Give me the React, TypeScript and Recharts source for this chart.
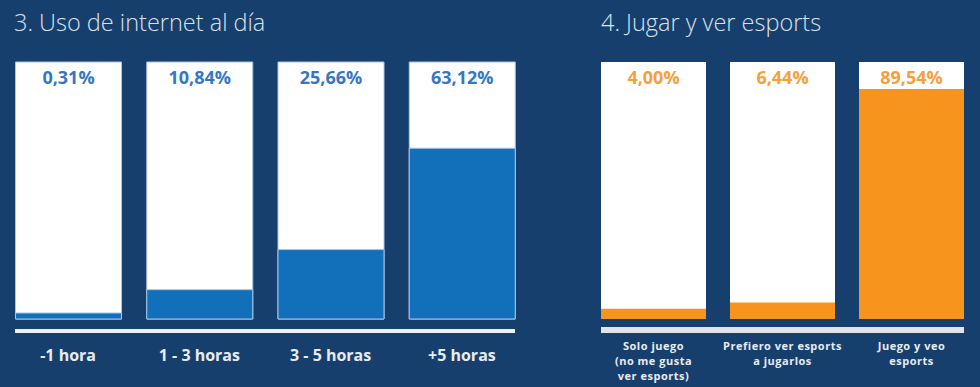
import { BarChart, Bar, XAxis, YAxis, LabelList } from "recharts";

// 3. Uso de internet al día
const usoCategorias = ["-1 hora", "1 - 3 horas", "3 - 5 horas", "+5 horas"];
const usoValores = [0.31, 10.84, 25.66, 63.12];

// 4. Jugar y ver esports
const esportsCategorias = [
  "Solo juego\n(no me gusta\nver esports)",
  "Prefiero ver esports\na jugarlos",
  "Juego y veo\nesports",
];
const esportsValores = [4.0, 6.44, 89.54];

const FONT = "'Open Sans', 'Noto Sans', sans-serif";
const NAVY = "#173f6e";
const PLOT_TOP = 62;

const fmt = (v: number) => v.toFixed(2).replace(".", ",") + "%";

const usoData = usoCategorias.map((cat, i) => ({ cat, valor: usoValores[i] }));
const esportsData = esportsCategorias.map((cat, i) => ({ cat, valor: esportsValores[i] }));

const pctLabel = (color: string) => (props: any) => {
  const { x, width, value } = props;
  return (
    <text
      x={Number(x) + Number(width) / 2}
      y={PLOT_TOP + 22}
      textAnchor="middle"
      fill={color}
      fontFamily={FONT}
      fontWeight={700}
      fontSize={18}
    >
      {fmt(Number(value))}
    </text>
  );
};

const HorasTick = (props: any) => {
  const { x, y, payload } = props;
  return (
    <text
      x={x}
      y={y}
      dy={42}
      textAnchor="middle"
      fill="#e8ecf1"
      fontFamily={FONT}
      fontWeight={700}
      fontSize={16}
    >
      {payload.value}
    </text>
  );
};

const EsportsTick = (props: any) => {
  const { x, y, payload } = props;
  const lines = String(payload.value).split("\n");
  return (
    <text
      x={x}
      y={y}
      textAnchor="middle"
      fill="#e8ecf1"
      fontFamily={FONT}
      fontWeight={700}
      fontSize={11}
      letterSpacing={0.5}
    >
      {lines.map((l, i) => (
        <tspan key={i} x={x} dy={i === 0 ? 31 : 15}>
          {l}
        </tspan>
      ))}
    </text>
  );
};

const titleStyle: React.CSSProperties = {
  position: "absolute",
  top: 6,
  fontFamily: FONT,
  fontWeight: 300,
  fontSize: 23.5,
  color: "#dce2ea",
  whiteSpace: "nowrap",
};

export default function App() {
  return (
    <div
      style={{
        position: "absolute",
        left: 0,
        top: 0,
        width: 980,
        height: 387,
        background: NAVY,
        overflow: "hidden",
      }}
    >
      <div style={{ ...titleStyle, left: 14 }}>3. Uso de internet al día</div>
      <div style={{ ...titleStyle, left: 601 }}>4. Jugar y ver esports</div>

      <div style={{ position: "absolute", left: 0, top: 0 }}>
        <BarChart
          width={530}
          height={387}
          data={usoData}
          margin={{ top: PLOT_TOP, right: 2.5, bottom: 0, left: 2.5 }}
          barSize={106}
        >
          <XAxis
            dataKey="cat"
            axisLine={false}
            tickLine={false}
            tickSize={0}
            tickMargin={0}
            height={68}
            interval={0}
            tick={<HorasTick />}
          />
          <YAxis hide domain={[0, 95]} />
          <Bar
            dataKey="valor"
            fill="#1170b9"
            stroke="#a5c5ea"
            strokeWidth={1}
            minPointSize={6}
            background={{ fill: "#ffffff", stroke: "#a5c5ea", strokeWidth: 1 }}
            isAnimationActive={false}
          >
            <LabelList dataKey="valor" content={pctLabel("#3577c3")} />
          </Bar>
        </BarChart>
      </div>
      <div
        style={{
          position: "absolute",
          left: 15,
          top: 329,
          width: 500,
          height: 4,
          background: "#eef1f4",
        }}
      />

      <div style={{ position: "absolute", left: 530, top: 0 }}>
        <BarChart
          width={450}
          height={387}
          data={esportsData}
          margin={{ top: PLOT_TOP, right: 450 - 59 - 387, bottom: 0, left: 59 }}
          barSize={105}
        >
          <XAxis
            dataKey="cat"
            axisLine={false}
            tickLine={false}
            tickSize={0}
            tickMargin={0}
            height={68}
            interval={0}
            tick={<EsportsTick />}
          />
          <YAxis hide domain={[0, 100]} />
          <Bar
            dataKey="valor"
            fill="#f7941d"
            background={{ fill: "#ffffff" }}
            isAnimationActive={false}
          >
            <LabelList dataKey="valor" content={pctLabel("#f5a03b")} />
          </Bar>
        </BarChart>
      </div>
      <div
        style={{
          position: "absolute",
          left: 601,
          top: 327,
          width: 363,
          height: 6,
          background: "#dfe4ea",
        }}
      />
    </div>
  );
}
